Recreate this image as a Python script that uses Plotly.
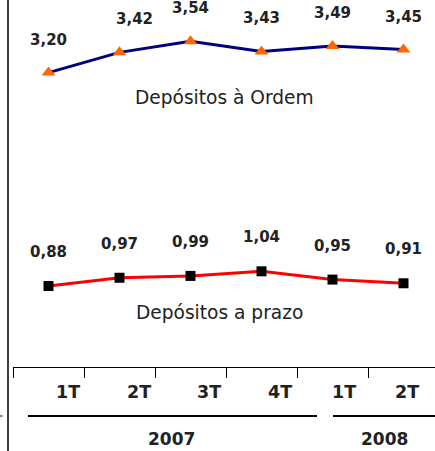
import plotly.graph_objects as go

quarters = ["1T", "2T", "3T", "4T", "1T", "2T"]
years = ["2007", "2008"]
ordem = [3.20, 3.42, 3.54, 3.43, 3.49, 3.45]
prazo = [0.88, 0.97, 0.99, 1.04, 0.95, 0.91]
ordem_name = "Depósitos à Ordem"
prazo_name = "Depósitos a prazo"

W, H = 435, 451
L, B = 13, 84
PW, PH = W - L, H - B
STEP = 71.0

def px_x(p):
    return (p - L) / PW

def px_y(p):
    return (PH - p) / PH

x = list(range(len(quarters)))
fmt = lambda v: f"{v:.2f}".replace(".", ",")

fig = go.Figure()
fig.add_trace(go.Scatter(x=x, y=ordem, mode="lines+markers",
                         line=dict(color="#000080", width=3),
                         marker=dict(symbol="triangle-up", size=12, color="#FF6600"),
                         hoverinfo="skip"))
fig.add_trace(go.Scatter(x=x, y=prazo, mode="lines+markers",
                         line=dict(color="#FF0000", width=3),
                         marker=dict(symbol="square", size=10, color="#000000"),
                         hoverinfo="skip"))

A = dict(showarrow=False, xanchor="center", yanchor="middle")

val_font = dict(family="DejaVu Sans", size=15, color="#222222", weight="bold")
ordem_shift = [0, 15, 0, 0, 0, 0]
for i, v in enumerate(ordem):
    fig.add_annotation(x=i, y=v, text=fmt(v), yshift=33,
                       xshift=ordem_shift[i], font=val_font, **A)
for i, v in enumerate(prazo):
    fig.add_annotation(x=i, y=v, text=fmt(v), yshift=34, font=val_font, **A)

name_font = dict(family="DejaVu Sans", size=18.6, color="#222222")
fig.add_annotation(xref="paper", yref="paper", x=px_x(224), y=px_y(97), text=ordem_name,
                   font=name_font, **A)
fig.add_annotation(xref="paper", yref="paper", x=px_x(219), y=px_y(312), text=prazo_name,
                   font=name_font, **A)

tick_font = dict(family="DejaVu Sans", size=17.5, color="#222222", weight="bold")
year_font = dict(family="DejaVu Sans", size=17, color="#222222", weight="bold")
tick_shift = [19, 19, 18, 18, 11, 3]
for i, q in enumerate(quarters):
    fig.add_annotation(x=i, y=0, yref="y", text=q, yshift=-25,
                       xshift=tick_shift[i], font=tick_font, **A)

fig.add_annotation(xref="paper", yref="paper", x=px_x(171), y=px_y(439), text=years[0],
                   font=year_font, **A)
fig.add_annotation(xref="paper", yref="paper", x=px_x(384), y=px_y(439), text=years[1],
                   font=year_font, **A)

shapes = [
    dict(type="line", xref="paper", yref="paper", x0=px_x(8), x1=px_x(8),
         y0=px_y(0), y1=px_y(451), line=dict(color="#000000", width=1.5)),
    dict(type="line", xref="paper", yref="paper", x0=px_x(28), x1=px_x(317),
         y0=px_y(416), y1=px_y(416), line=dict(color="#000000", width=2)),
    dict(type="line", xref="paper", yref="paper", x0=px_x(333), x1=px_x(440),
         y0=px_y(416), y1=px_y(416), line=dict(color="#000000", width=2)),
    dict(type="line", xref="paper", yref="paper", x0=px_x(0), x1=px_x(2.5),
         y0=px_y(416), y1=px_y(416), line=dict(color="#000000", width=1)),
]

fig.update_layout(
    width=W, height=H, margin=dict(l=L, r=0, t=0, b=B),
    paper_bgcolor="white", plot_bgcolor="white", showlegend=False,
    shapes=shapes,
    xaxis=dict(range=[-0.5, -0.5 + PW / STEP], showgrid=False, zeroline=False,
               showline=True, linecolor="#000000", linewidth=1,
               ticks="outside", ticklen=10, tickcolor="#000000", tickwidth=1,
               tickvals=[-0.5, 0.5, 1.5, 2.5, 3.5, 4.5], showticklabels=False,
               fixedrange=True),
    yaxis=dict(range=[0, PH / 92.0], visible=False, fixedrange=True),
)

fig.write_html("out.html", config={"displayModeBar": False},
               post_script="document.body.style.margin='0px';document.body.style.overflow='hidden';")
